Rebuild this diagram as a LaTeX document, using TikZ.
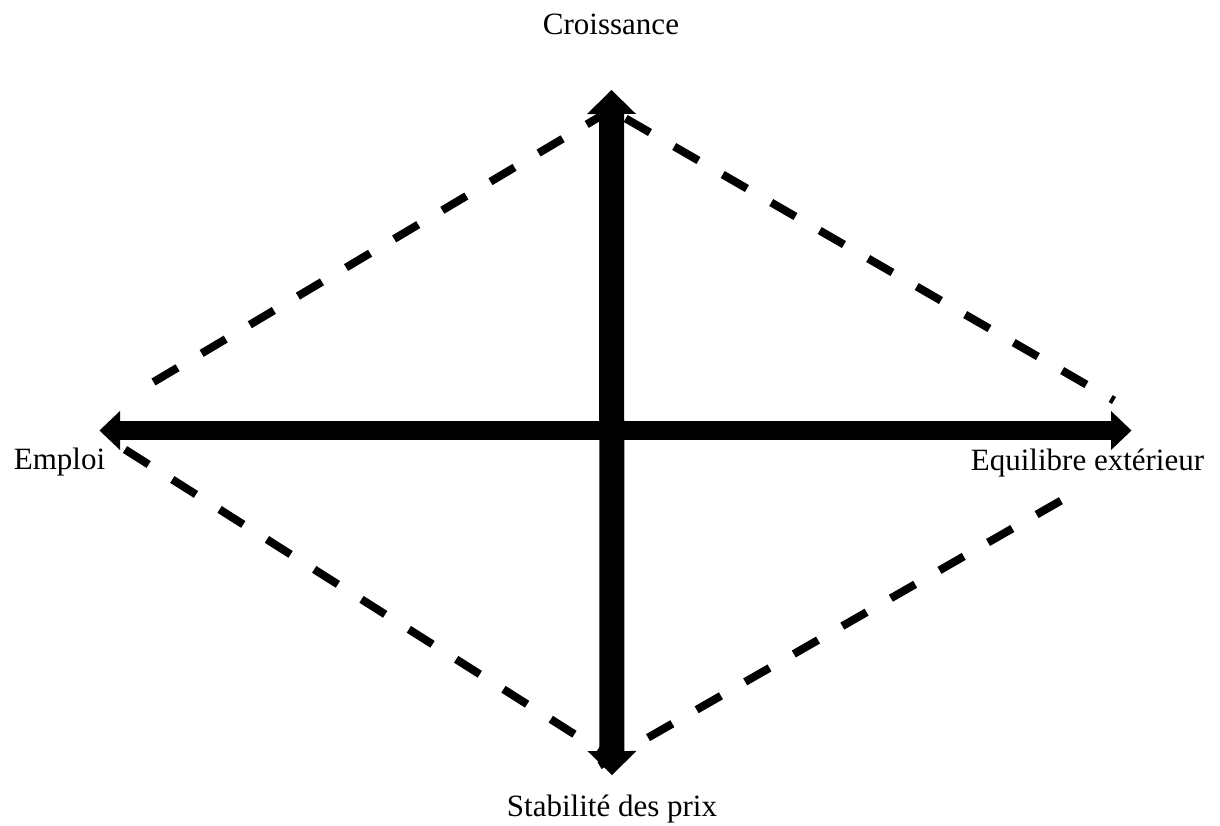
\documentclass[tikz,border=0pt]{standalone}
\usepackage{fontspec}
\setmainfont{Liberation Serif}
\usetikzlibrary{arrows.meta}
\begin{document}
\begin{tikzpicture}[x=1pt,y=-1pt,
  lbl/.style={font=\fontsize{31}{37}\selectfont, inner sep=0pt, anchor=base},
  vtip/.style={Triangle[length=24pt,width=49pt,line width=0pt]},
  htip/.style={Triangle[length=20.5pt,width=39pt,line width=0pt]},
  vaxis/.style={line width=25pt, {Triangle[length=24pt,width=49pt,line width=0pt]}-{Triangle[length=24pt,width=49pt,line width=0pt]}},
  haxis/.style={line width=19.5pt, {Triangle[length=20.5pt,width=39pt,line width=0pt]}-{Triangle[length=20.5pt,width=39pt,line width=0pt]}},
  dashln/.style={line width=8pt, dash pattern=on 28pt off 28pt}]
\useasboundingbox (0,0) rectangle (1220,825);

% axis end points
\coordinate (T) at (611.5,90);
\coordinate (B) at (612,775);
\coordinate (L) at (99.5,430.5);
\coordinate (R) at (1131.5,430.5);

% dashed outline points
\coordinate (ulA) at (153.5,382);
\coordinate (top) at (611,110);
\coordinate (urB) at (1114,400.5);
\coordinate (lrA) at (599.5,765.5);
\coordinate (lrB) at (1062,500);
\coordinate (llA) at (125,449.5);
\coordinate (bot) at (612,758);

% dashed lines
\draw[dashln] (ulA) -- (top);
\draw[dashln, dash phase=39pt] (top) -- (urB);
\draw[dashln] (lrA) -- (lrB);
\draw[dashln] (llA) -- (bot);

% axes
\draw[vaxis] (T) -- (B);
\draw[haxis] (L) -- (R);

% labels
\node[lbl] (croiss) at (611,34) {Croissance};
\node[lbl] (emploi) at (59.5,469.5) {Emploi};
\node[lbl] (equil) at (1087.5,470) {Equilibre extérieur};
\node[lbl] (stab) at (612,816.7) {Stabilité des prix};
\end{tikzpicture}
\end{document}
